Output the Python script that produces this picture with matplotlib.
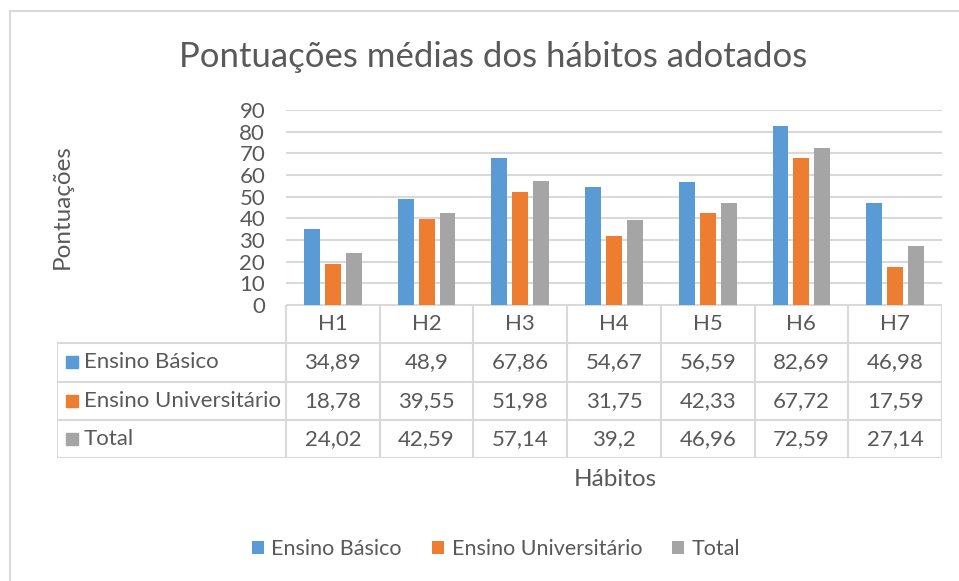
import matplotlib
matplotlib.use('Agg')
import matplotlib.pyplot as plt
from matplotlib.patches import Patch, Rectangle
import numpy as np

plt.rcParams['font.family'] = ['Lato', 'DejaVu Sans']

# data
habits = ['H1', 'H2', 'H3', 'H4', 'H5', 'H6', 'H7']
series_names = ['Ensino Básico', 'Ensino Universitário', 'Total']
basico = [34.89, 48.9, 67.86, 54.67, 56.59, 82.69, 46.98]
universitario = [18.78, 39.55, 51.98, 31.75, 42.33, 67.72, 17.59]
total = [24.02, 42.59, 57.14, 39.2, 46.96, 72.59, 27.14]

COLORS = ['#5B9BD5', '#ED7D31', '#A5A5A5']
TXT = '#595959'
GRID = '#D9D9D9'

W, H = 959, 581
fig = plt.figure(figsize=(W / 100, H / 100), dpi=100)


def fx(px):
    return px / W


def fy(py):
    return 1 - py / H


# outer chart border
fig.add_artist(Rectangle((fx(10), -0.1), 1.2, fy(11) + 0.1, transform=fig.transFigure,
                         fill=False, edgecolor=GRID, lw=1.5, clip_on=False))

# bar area
ax = fig.add_axes([fx(286), fy(305), fx(942) - fx(286), (305 - 110) / H])
x = np.arange(len(habits))
step = 0.223
bw = 0.17
for i, vals in enumerate([basico, universitario, total]):
    ax.bar(x + (i - 1) * step, vals, width=bw, color=COLORS[i], zorder=3)
ax.set_xlim(-0.5, len(habits) - 0.5)
ax.set_ylim(0, 90)
ax.set_yticks(range(0, 91, 10))
ax.set_xticks([])
ax.grid(axis='y', color=GRID, lw=1.5, zorder=0)
for s in ax.spines.values():
    s.set_visible(False)
ax.tick_params(axis='y', length=0, pad=15, labelsize=16, labelcolor=TXT)

# data table
ncol = len(habits)
col_px = (942 - 286) / ncol
LW = (286 - 57) / col_px
tab = fig.add_axes([fx(57), fy(458), fx(942) - fx(57), (458 - 305) / H])
tab.set_xlim(-0.5 - LW, ncol - 0.5)
tab.set_ylim(4, 0)
tab.axis('off')
lk = dict(color=GRID, lw=1.5, solid_capstyle='projecting')
tab.plot([-0.5, ncol - 0.5], [0, 0], **lk)
for r in range(1, 5):
    tab.plot([-0.5 - LW, ncol - 0.5], [r, r], **lk)
for c in range(ncol + 1):
    tab.plot([c - 0.5, c - 0.5], [0, 4], **lk)
tab.plot([-0.5 - LW, -0.5 - LW], [1, 4], **lk)

for c, h in enumerate(habits):
    tab.text(c, 0.5, h, ha='center', va='center', fontsize=16, color=TXT)
for r, (name, vals) in enumerate(zip(series_names, [basico, universitario, total])):
    y = r + 1.5
    tab.plot([-0.5 - LW + 0.155], [y], marker='s', ms=8.5, color=COLORS[r], lw=0)
    tab.text(-0.5 - LW + 0.288, y, name, ha='left', va='center', fontsize=16, color=TXT)
    for c, v in enumerate(vals):
        tab.text(c, y, f'{v:g}'.replace('.', ','), ha='center', va='center',
                 fontsize=16, color=TXT)

# titles
fig.text(fx(493), fy(57), 'Pontuações médias dos hábitos adotados', ha='center', va='center',
         fontsize=25, color=TXT)
fig.text(fx(62), fy(207), 'Pontuações', ha='center', va='center', rotation=90,
         fontsize=17.5, color=TXT)
fig.text(fx(615), fy(479), 'Hábitos', ha='center', va='center', fontsize=17.5, color=TXT)

# legend
handles = [Patch(facecolor=c, edgecolor='none') for c in COLORS]
leg = fig.legend(handles, series_names, loc='center', bbox_to_anchor=(fx(496), fy(549)),
                 ncol=3, frameon=False, fontsize=15.5, handlelength=0.55, handleheight=0.55,
                 handletextpad=0.36, columnspacing=1.4)
for t in leg.get_texts():
    t.set_color(TXT)

fig.savefig('out.png', dpi=100, facecolor='white')
